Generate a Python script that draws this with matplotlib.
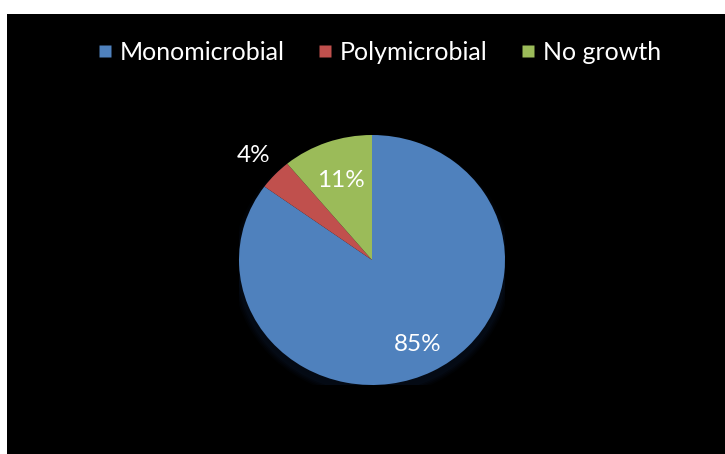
import numpy as np
import matplotlib
matplotlib.use("Agg")
import matplotlib.pyplot as plt
from matplotlib.patches import Rectangle, Ellipse

categories = ["Monomicrobial", "Polymicrobial", "No growth"]
values = [85, 4, 11]
colors = ["#4F81BD", "#C0504D", "#9BBB59"]
label_dist = [0.76, 1.22, 0.68]

W, H = 725, 454
fig = plt.figure(figsize=(W / 100, H / 100), dpi=100, facecolor="white")
fig.patches.append(Rectangle((7 / W, 0), 1 - 7 / W, (H - 14) / H, transform=fig.transFigure,
                             facecolor="black", edgecolor="none", zorder=-10))

cx, cy = 372, H - 260
rx, ry = 133, 125
ax = fig.add_axes([(cx - rx) / W, (cy - ry) / H, 2 * rx / W, 2 * ry / H])
ax.set_zorder(2)
ax.patch.set_visible(False)

# soft shadow
for i, a in enumerate([0.10, 0.12, 0.15, 0.2]):
    s = 1.0 + 0.012 * (4 - i)
    ax.add_patch(Ellipse((0, -0.05), 2 * s, 2 * s, facecolor="#0a1a30", alpha=a,
                         edgecolor="none", zorder=0))

wedges, _ = ax.pie(values, colors=colors, startangle=90, counterclock=False,
                   radius=1, wedgeprops=dict(linewidth=0), frame=False)
ax.set_xlim(-1, 1)
ax.set_ylim(-1, 1)
ax.set_aspect("auto")
ax.axis("off")

font = ["Lato", "DejaVu Sans"]
for w, v, d in zip(wedges, values, label_dist):
    ang = np.deg2rad((w.theta1 + w.theta2) / 2)
    ax.text(d * np.cos(ang), d * np.sin(ang), f"{v}%", color="white", fontsize=17.5,
            ha="center", va="center", family=font, zorder=5)

handles = [plt.Line2D([], [], marker="s", linestyle="none", markersize=9,
                      markerfacecolor=c, markeredgecolor="none") for c in colors]
leg = fig.legend(handles, categories, loc="center", bbox_to_anchor=(379 / W, 1 - 52 / H),
                 ncol=3, frameon=False, prop=dict(family=font, size=18),
                 handlelength=0.6, handletextpad=0.3, columnspacing=1.3)
leg.set_zorder(3)
for t in leg.get_texts():
    t.set_color("white")

fig.savefig("out.png", dpi=100, facecolor="white")
